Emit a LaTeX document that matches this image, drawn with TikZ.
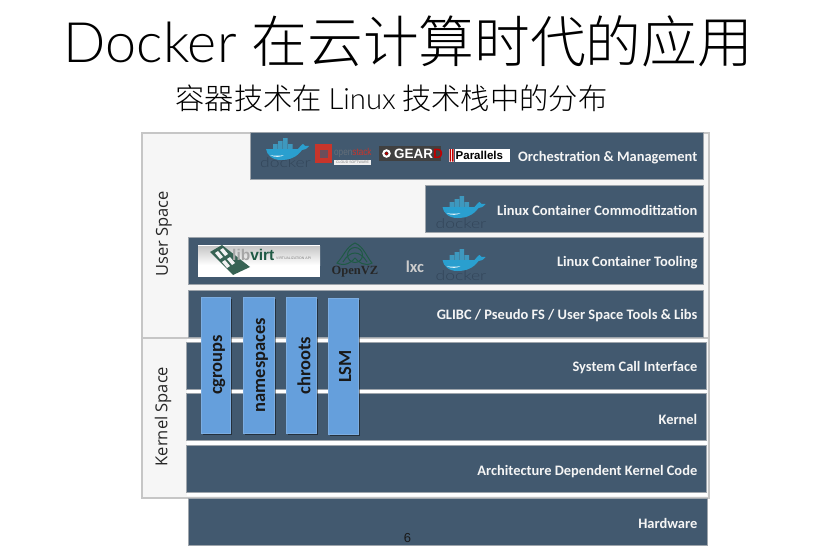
\documentclass[tikz,border=0pt]{standalone}
\usepackage{fontspec}
\setmainfont{Carlito}
\newfontfamily\titlelatin{Lato Light}
\newfontfamily\cjk{Noto Sans CJK SC Light}
\newfontfamily\lab{Open Sans}
\newfontfamily\logoserif{Liberation Serif}
\newfontfamily\logosans{Liberation Sans}
\usetikzlibrary{shadows}
\definecolor{barblue}{HTML}{42596F}
\definecolor{colblue}{HTML}{659FDC}
\definecolor{framegray}{HTML}{C6C6C6}
\definecolor{panel}{HTML}{F6F6F6}
\definecolor{whale}{HTML}{2A9FCF}
\definecolor{whalebox}{HTML}{3E98BE}
\definecolor{dockertxt}{HTML}{33465A}
\definecolor{vzgreen}{HTML}{1F5A45}
\definecolor{osred}{HTML}{C8352B}
\tikzset{
  x=1pt,y=-1pt,
  barbox/.style={fill=barblue,draw=framegray!70!barblue,line width=.5pt},
  bartext/.style={text=white!96!black,font=\fontsize{14.45}{15}\selectfont\bfseries,anchor=east,inner sep=0pt},
  colbox/.style={fill=colblue,draw=colblue!85!white,line width=.5pt,
    drop shadow={shadow xshift=2pt,shadow yshift=-1.5pt,opacity=.45,fill=black}},
  coltext/.style={text=black!90,rotate=90,font=\fontsize{18.5}{19}\selectfont\bfseries,inner sep=0pt},
  framebox/.style={draw=framegray,line width=2pt},
  sidetext/.style={rotate=90,text=black!85,font=\lab\fontsize{16.5}{17}\selectfont,inner sep=0pt},
  dockerlabel/.style={text=dockertxt,yscale=.78,font=\titlelatin\fontsize{17.5}{18}\selectfont,inner sep=0pt},
  logotext/.style={inner sep=0pt},
  whalelogo/.pic={
    \fill[whalebox] (-14,-6) rectangle (-9.5,-1) (-9,-6) rectangle (-4.5,-1) (-4,-6) rectangle (.5,-1)
      (1,-6) rectangle (5.5,-1) (-9,-9) rectangle (-4.5,-6) (-4,-9) rectangle (.5,-6) (-4,-12) rectangle (.5,-9);
    \fill[whale] (-21,-1) -- (11,-1) .. controls (13,-3) and (15,-6) .. (16,-6)
      .. controls (17,-4) and (18,-4) .. (22,-4) .. controls (20,-1) and (17,0) .. (15,0)
      .. controls (10,7) and (3,10) .. (-6,10) .. controls (-15,10) and (-20,5) .. (-21,-1) -- cycle;
    \fill[white!85!whale] (-17,5) .. controls (-12,8) and (-6,7) .. (-3,5) .. controls (-7,6) and (-13,6) .. (-17,5) -- cycle;
  }
}
\begin{document}
\begin{tikzpicture}
\useasboundingbox (0,0) rectangle (814,551);
\fill[white] (0,0) rectangle (814,551);
% titles
\node[inner sep=0pt,anchor=center] (title) at (408.5,41) {\fontsize{55.7}{60}\selectfont\titlelatin Docker\ {\cjk 在云计算时代的应用}};
\node[inner sep=0pt,anchor=center] (subtitle) at (391.5,98) {\fontsize{29.3}{32}\selectfont\cjk 容器技术在 {\titlelatin Linux} 技术栈中的分布};
% frames
\node[framebox,fill=panel,minimum width=567pt,minimum height=205pt,anchor=north west,inner sep=0pt] (userframe) at (141,132) {};
\node[framebox,fill=panel,minimum width=567pt,minimum height=160pt,anchor=north west,inner sep=0pt] (kernelframe) at (141,337) {};
\fill[white] (187,338.5) rectangle (706.8,495.8);
% bars
\foreach \nm/\xa/\ya/\xb/\yb in {b1/250/132.5/703/179.5, b2/425/185/703/232, b3/188/237/703/284, b4/188/290/703/337,
  b5/186.5/342/706/389, b6/186.5/393.5/706/440.5, b7/186.5/445.5/706/492.5, b8/188/498/707/545}{
  \path[barbox] (\xa,\ya) rectangle (\xb,\yb);
}
\foreach \nm/\yy/\tx in {t1/157.5/{Orchestration \& Management}, t2/210.5/{Linux Container Commoditization}, t3/262.5/{Linux Container Tooling},
  t4/315.5/{GLIBC / Pseudo FS / User Space Tools \& Libs}, t5/367.5/{System Call Interface}, t6/419.5/{Kernel},
  t7/471.5/{Architecture Dependent Kernel Code}, t8/523.5/{Hardware}}{
  \node[bartext] (\nm) at (697.5,\yy) {\tx};
}
% columns
\node[colbox,minimum width=29pt,minimum height=136pt,inner sep=0pt] (c1) at (215.5,365) {};
\node[colbox,minimum width=30.5pt,minimum height=136pt,inner sep=0pt] (c2) at (258.7,365) {};
\node[colbox,minimum width=29.5pt,minimum height=136pt,inner sep=0pt] (c3) at (301,365) {};
\node[colbox,minimum width=29.5pt,minimum height=136pt,inner sep=0pt] (c4) at (343,366.5) {};
\node[coltext] (c1t) at (219,365) {cgroups};
\node[coltext] (c2t) at (262,365) {namespaces};
\node[coltext] (c3t) at (304,365.5) {chroots};
\node[coltext] (c4t) at (345,366.5) {LSM};
% side labels
\node[sidetext] (us) at (164,234) {User Space};
\node[sidetext] (ks) at (163,416.5) {Kernel Space};
% page number
\node[inner sep=0pt,text=black!90,font=\logosans\fontsize{13}{14}\selectfont] (pg) at (407.5,538) {6};
% docker logos
\node[dockerlabel] (d1) at (285.5,163) {docker};
\pic at (287,150) {whalelogo};
\node[dockerlabel] (d2) at (461,224) {docker};
\pic at (463.5,208) {whalelogo};
\node[dockerlabel] (d3) at (461,276) {docker};
\pic at (463.5,261) {whalelogo};
% openstack
\fill[osred] (315,144) rectangle (332,162.5);
\fill[barblue!70!osred] (319.5,149.5) rectangle (327.5,157.5);
\node[logotext,font=\logosans\fontsize{10}{10}\selectfont,anchor=west,xscale=.82] (os) at (334,153) {\textcolor{gray!55!barblue}{open}\textcolor{osred}{stack}};
\node[fill=gray!12,minimum width=37pt,minimum height=5pt,inner sep=0pt,text=gray,font=\logosans\fontsize{3.5}{4}\selectfont] (oscloud) at (352.5,162.5) {CLOUD SOFTWARE};
% geard
\fill[black!75] (379,146) rectangle (441,161);
\draw[white,line width=2pt] (386.5,153.5) circle (3.2pt);
\fill[red!70!black] (386.5,153.5) circle (1.7pt);
\node[logotext,font=\logosans\bfseries\fontsize{13.5}{14}\selectfont,anchor=west] (geard) at (394,154) {\textcolor{white}{GEAR}\textcolor{red!75!black}{D}};
% parallels
\fill[white] (455,149) rectangle (510,161.5);
\fill[white] (449,149) rectangle (454,161.5);
\fill[red!75!black] (449.6,149) rectangle (451,161.5) (452.2,149) rectangle (453.6,161.5);
\node[logotext,font=\logosans\bfseries\fontsize{11.5}{12}\selectfont,anchor=west] (par) at (455.5,155.5) {Parallels};
% libvirt
\fill[white] (198,245) rectangle (320,277);
\shade[top color=gray!45,bottom color=white] (198,246) rectangle (320,265);
\fill[vzgreen!75!gray] (210,252) -- (222,245) -- (250,267) -- (233,275) -- cycle;
\fill[white!90!gray] (215,253) -- (218,251) -- (223,257) -- (220,259) -- cycle
  (220,250) -- (223,248) -- (228,254) -- (225,256) -- cycle
  (222,262) -- (225,260) -- (230,266) -- (227,268) -- cycle
  (227,259) -- (230,257) -- (235,263) -- (232,265) -- cycle;
\node[logotext,font=\logosans\bfseries\fontsize{15.5}{16}\selectfont,anchor=west] (lv) at (232,254.5) {\textcolor{gray!70}{lib}\textcolor{vzgreen}{virt}};
\node[logotext,text=gray,font=\logosans\fontsize{3.5}{4}\selectfont,anchor=west] (lvapi) at (276,258) {VIRTUALIZATION API};
% openvz
\begin{scope}[vzgreen,line width=1pt]
  \draw (355,243) .. controls (346,247) and (344,256) .. (337,263) .. controls (345,267) and (352,262) .. (355,258)
        .. controls (358,262) and (365,267) .. (372,263) .. controls (366,256) and (364,247) .. (355,243) -- cycle;
  \draw (355,255) circle (7.5pt);
  \draw (343,262) .. controls (350,250) and (360,250) .. (367,262);
\end{scope}
\node[logotext,text=black!85,font=\logoserif\bfseries\fontsize{12.5}{13}\selectfont] (vz) at (355,272) {OpenVZ};
% lxc
\node[logotext,text=gray!40,font=\fontsize{16.5}{17}\selectfont\bfseries] (lxc) at (415,267) {lxc};
\end{tikzpicture}
\end{document}
